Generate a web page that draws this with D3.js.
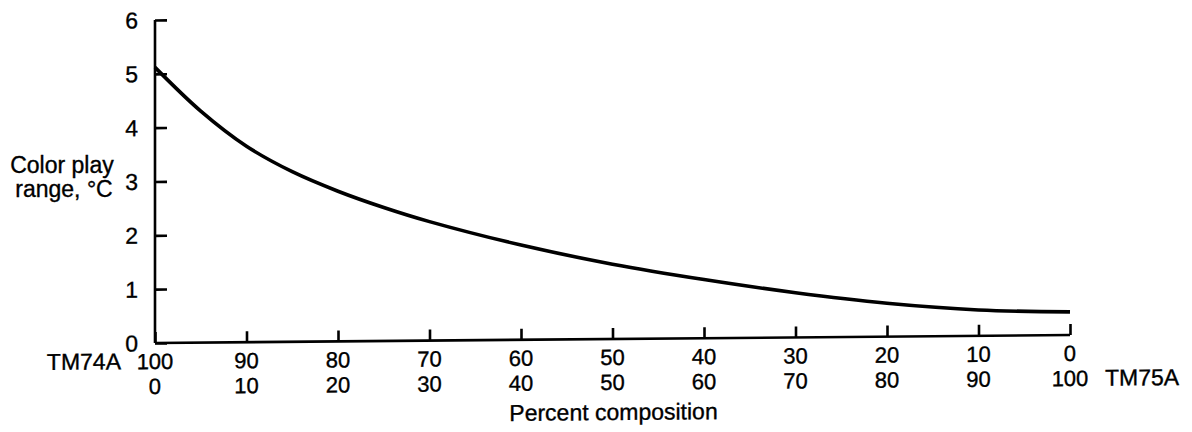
<!DOCTYPE html>
<html>
<head>
<meta charset="utf-8">
<script src="https://cdn.jsdelivr.net/npm/d3@7"></script>
<style>
  body { margin: 0; background: #fff; }
  svg text { font-family: "Liberation Sans", Arial, sans-serif; fill: #000; stroke: #000; stroke-width: 0.35px; }
</style>
</head>
<body>
<div id="chart"></div>
<script>
// percent TM75A in the blend (TM74A = 100 - this)
const pctTM75A = [0, 5, 10, 15, 20, 25, 30, 40, 50, 60, 70, 80, 90, 100];
// colour play range, deg C
const playRange = [5.12, 4.30, 3.64, 3.16, 2.79, 2.48, 2.21, 1.76, 1.39, 1.09, 0.83, 0.62, 0.48, 0.43];

const xTicks = [0, 10, 20, 30, 40, 50, 60, 70, 80, 90, 100];
const yTicks = [0, 1, 2, 3, 4, 5, 6];

const config = {
    width: 1192,
    height: 432,
    left: 155,
    right: 1070,
    top: 20,
    bottom: 343,
    fontSize: 22,
}

const svg = d3.select('#chart')
    .append('svg')
    .attr('width', config.width)
    .attr('height', config.height)
;

// the scanned figure is slightly tilted, the x axis climbs toward the right
const g = svg.append('g')
    .attr('transform', `translate(${config.left},0) skewY(-0.5) translate(${-config.left},0)`)
;

const x = d3.scaleLinear()
    .domain([0, 100])
    .range([config.left, config.right])
;

const y = d3.scaleLinear()
    .domain([0, 6])
    .range([config.bottom, config.top])
;

// y axis, ticks pointing inward
const yAxis = g.append('g')
    .attr('transform', `translate(${config.left},0)`)
    .call(d3.axisRight(y).tickValues(yTicks).tickSize(12).tickFormat(''))
;
yAxis.select('.domain').attr('d', `M0,${y(6)}V${y(0)}`);
yAxis.selectAll('path, line').attr('stroke', '#000').attr('stroke-width', 2.6);

g.append('g')
    .selectAll('text')
    .data(yTicks)
    .join('text')
    .attr('x', config.left - 17)
    .attr('y', d => y(d))
    .attr('dy', '0.36em')
    .attr('text-anchor', 'end')
    .style('font-size', '23px')
    .text(d => d)
;

// x axis, ticks pointing up
const xAxis = g.append('g')
    .attr('transform', `translate(0,${config.bottom})`)
    .call(d3.axisTop(x).tickValues(xTicks).tickSize(11).tickFormat(''))
;
xAxis.select('.domain').attr('d', `M${x(0)},0H${x(100)}`);
xAxis.selectAll('path, line').attr('stroke', '#000').attr('stroke-width', 2.6);

g.append('g')
    .selectAll('text')
    .data(xTicks)
    .join('text')
    .attr('x', d => x(d))
    .attr('y', config.bottom + 26)
    .attr('text-anchor', 'middle')
    .style('font-size', config.fontSize + 'px')
    .text(d => 100 - d)
;

g.append('g')
    .selectAll('text')
    .data(xTicks)
    .join('text')
    .attr('x', d => x(d))
    .attr('y', config.bottom + 51)
    .attr('text-anchor', 'middle')
    .style('font-size', config.fontSize + 'px')
    .text(d => d)
;

g.append('text')
    .attr('x', x(0) - 34)
    .attr('y', config.bottom + 26)
    .attr('text-anchor', 'end')
    .style('font-size', '23px')
    .text('TM74A')
;

g.append('text')
    .attr('x', x(100) + 35)
    .attr('y', config.bottom + 51)
    .attr('text-anchor', 'start')
    .style('font-size', '23px')
    .text('TM75A')
;

g.append('text')
    .attr('x', (x(0) + x(100)) / 2 + 1)
    .attr('y', config.bottom + 81)
    .attr('text-anchor', 'middle')
    .style('font-size', '23px')
    .text('Percent composition')
;

// y title, two lines
const yTitle = svg.append('text')
    .attr('text-anchor', 'middle')
    .style('font-size', '23px')
;
yTitle.append('tspan').attr('x', 62).attr('y', 173).text('Color play');
yTitle.append('tspan').attr('x', 64).attr('y', 197).text('range, °C');

// the curve
const line = d3.line()
    .x((d, i) => x(pctTM75A[i]))
    .y(d => y(d))
    .curve(d3.curveCatmullRom.alpha(0.5))
;

g.append('path')
    .datum(playRange)
    .attr('fill', 'none')
    .attr('stroke', '#000')
    .attr('stroke-width', 3.6)
    .attr('d', line)
;
</script>
</body>
</html>
